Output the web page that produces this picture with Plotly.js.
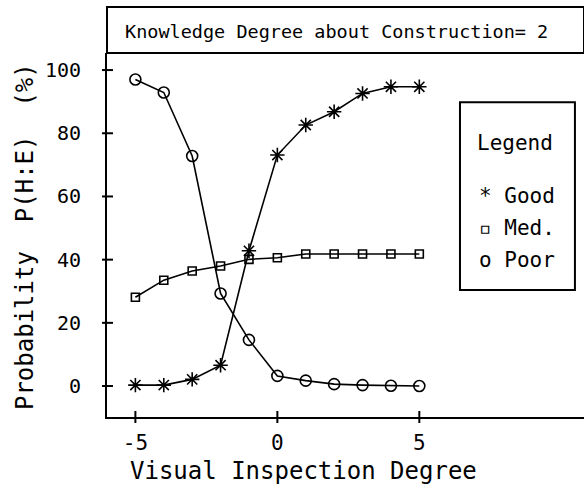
<!DOCTYPE html>
<html>
<head>
<meta charset="utf-8">
<script src="https://cdn.plot.ly/plotly-3.0.1.min.js"></script>
<style>html,body{margin:0;padding:0;background:#fff;}#chart{width:584px;height:488px;}</style>
</head>
<body>
<div id="chart"></div>
<script>
const xValues = [-5, -4, -3, -2, -1, 0, 1, 2, 3, 4, 5];
const goodValues = [0.3, 0.3, 2.1, 6.6, 42.8, 73.1, 82.6, 86.8, 92.6, 94.7, 94.7];
const medValues = [28.1, 33.5, 36.4, 38.0, 40.1, 40.6, 41.8, 41.8, 41.8, 41.8, 41.8];
const poorValues = [97.0, 92.9, 72.8, 29.3, 14.6, 3.2, 1.7, 0.6, 0.3, 0.1, 0.0];
const xTickVals = [-5, 0, 5];
const xTickText = ["-5", "0", "5"];
const yTickVals = [0, 20, 40, 60, 80, 100];
const yTickText = ["0", "20", "40", "60", "80", "100"];
const chartTitle = "Knowledge Degree about Construction= 2";
const xTitle = "Visual Inspection Degree";
const yTitle = "Probability  P(H:E)  (%)";
const legendTitle = "Legend";
const legendItems = ["* Good", "\u25AB Med.", "o Poor"];

const FONT = "DejaVu Sans Mono, monospace";
const line = {color: "#000", width: 1.6};

const traces = [
  {x: xValues, y: goodValues, mode: "lines+markers", name: "Good", line: line,
   marker: {symbol: "asterisk-open", size: 12, color: "#000", line: {color: "#000", width: 1.6}}},
  {x: xValues, y: medValues, mode: "lines+markers", name: "Med.", line: line,
   marker: {symbol: "square-open", size: 8, color: "#000", line: {color: "#000", width: 1.6}}},
  {x: xValues, y: poorValues, mode: "lines+markers", name: "Poor", line: line,
   marker: {symbol: "circle-open", size: 11, color: "#000", line: {color: "#000", width: 1.6}}}
];

const xRange = [-6.0, 10.8];
const yRange = [-9.8, 105.4];

// tick marks that cross the axis line (drawn from the tick value arrays)
const tickShapes = [];
yTickVals.forEach(v => tickShapes.push({type: "line", xref: "paper", yref: "y",
  x0: -0.0105, x1: 0.0126, y0: v, y1: v, line: {color: "#000", width: 2}}));
xTickVals.forEach(v => tickShapes.push({type: "line", xref: "x", yref: "paper",
  y0: -0.0165, y1: 0.0165, x0: v, x1: v, line: {color: "#000", width: 2}}));

const layout = {
  width: 584, height: 488,
  margin: {l: 107, r: 0, t: 53, b: 71},
  paper_bgcolor: "#fff", plot_bgcolor: "#fff",
  showlegend: false,
  font: {family: FONT, color: "#000"},
  xaxis: {range: xRange, showgrid: false, zeroline: false, tickvals: xTickVals, ticktext: xTickText,
    showline: true, linecolor: "#000", linewidth: 2, ticks: "outside", ticklen: 6,
    tickcolor: "rgba(255,255,255,0)", tickfont: {family: FONT, size: 21, color: "#000"}},
  yaxis: {range: yRange, showgrid: false, zeroline: false, tickvals: yTickVals, ticktext: yTickText,
    showline: true, linecolor: "#000", linewidth: 2, ticks: "outside", ticklen: 20,
    tickcolor: "rgba(255,255,255,0)", tickfont: {family: FONT, size: 20, color: "#000"}},
  shapes: [
    {type: "rect", xref: "paper", yref: "paper", x0: 0, x1: 1.0, y0: 1.0, y1: 1.1264,
     line: {color: "#000", width: 2}, fillcolor: "rgba(0,0,0,0)"},
    {type: "rect", xref: "paper", yref: "paper", x0: 0.740, x1: 0.981, y0: 0.349, y1: 0.865,
     line: {color: "#000", width: 2}, fillcolor: "#fff"}
  ].concat(tickShapes),
  annotations: [
    {text: chartTitle, xref: "paper", yref: "paper", x: 0.0335, y: 1.0577, xanchor: "left", yanchor: "middle",
     showarrow: false, font: {family: FONT, size: 18.5, color: "#000"}},
    {text: xTitle, xref: "paper", yref: "paper", x: 0.411, y: -0.148, xanchor: "center", yanchor: "middle",
     showarrow: false, font: {family: FONT, size: 24, color: "#000"}},
    {text: yTitle, xref: "paper", yref: "paper", x: -0.172, y: 0.497, xanchor: "center", yanchor: "middle",
     textangle: -90, showarrow: false, font: {family: FONT, size: 24, color: "#000"}},
    {text: legendTitle, xref: "paper", yref: "paper", x: 0.7715, y: 0.753, xanchor: "left", yanchor: "middle",
     showarrow: false, font: {family: FONT, size: 21, color: "#000"}},
    {text: legendItems[0], xref: "paper", yref: "paper", x: 0.7757, y: 0.607, xanchor: "left", yanchor: "middle",
     showarrow: false, font: {family: FONT, size: 21, color: "#000"}},
    {text: legendItems[1], xref: "paper", yref: "paper", x: 0.7757, y: 0.519, xanchor: "left", yanchor: "middle",
     showarrow: false, font: {family: FONT, size: 21, color: "#000"}},
    {text: legendItems[2], xref: "paper", yref: "paper", x: 0.7757, y: 0.431, xanchor: "left", yanchor: "middle",
     showarrow: false, font: {family: FONT, size: 21, color: "#000"}}
  ]
};

Plotly.newPlot("chart", traces, layout, {staticPlot: true, displayModeBar: false});
</script>
</body>
</html>
